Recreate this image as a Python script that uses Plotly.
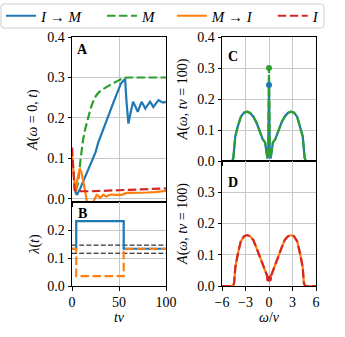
import plotly.graph_objects as go

# colours (matplotlib tab10)
blue, green, orange, red = '#1f77b4', '#2ca02c', '#ff7f0e', '#d62728'

# ---- panel A : A(w=0, t) ----
t_IM = [3, 5, 8, 12, 16, 20, 25, 28, 32, 36, 40, 44, 48, 52, 55, 56.5, 58, 60, 62.5, 65, 67.5, 70, 72, 74, 76, 78, 80.5, 83, 85, 86.5, 89, 92, 95, 97, 100]
A_IM = [0.022, 0.01, 0.022, 0.045, 0.068, 0.088, 0.115, 0.14, 0.163, 0.19, 0.213, 0.238, 0.262, 0.285, 0.293, 0.296, 0.24, 0.186, 0.215, 0.24, 0.228, 0.215, 0.228, 0.24, 0.232, 0.223, 0.232, 0.24, 0.233, 0.227, 0.235, 0.244, 0.24, 0.238, 0.24]

t_M = [4, 6.4, 9, 11.7, 14, 17, 20, 24, 28, 32, 36, 40, 44, 48, 52, 55, 60, 70, 80, 90, 100]
A_M = [0.02, 0.039, 0.095, 0.145, 0.172, 0.2, 0.225, 0.25, 0.262, 0.27, 0.276, 0.281, 0.286, 0.291, 0.296, 0.299, 0.3, 0.3, 0.3, 0.3, 0.3]

t_MI = [0, 1.5, 3.5, 5.5, 8, 10, 12, 14, 15.6, 17.5, 20, 22.7, 24.5, 26.2, 28, 29.8, 31.5, 33, 35, 36.5, 39, 41.8, 45, 48.9, 52, 55, 57.8, 62, 68, 73.8, 80, 88, 94, 98.6, 100]
A_MI = [0.108, 0.07, 0.018, 0.045, 0.075, 0.066, 0.045, 0.02, -0.003, -0.02, -0.02, -0.005, 0.004, 0.01, 0.008, 0.002, 0.006, 0.01, 0.008, 0.006, 0.009, 0.011, 0.01, 0.01, 0.01, 0.012, 0.015, 0.015, 0.015, 0.015, 0.016, 0.017, 0.018, 0.02, 0.02]

t_I = [0, 1, 2, 2.8, 5, 10, 20, 30, 40, 50, 60, 70, 80, 90, 100]
A_I = [0.127, 0.09, 0.04, 0.022, 0.02, 0.019, 0.019, 0.02, 0.021, 0.022, 0.023, 0.024, 0.025, 0.026, 0.026]

# ---- panel B : lambda(t) ----
t_lam = [0, 4.5, 4.5, 55, 55, 100]
lam_IM = [0.133, 0.133, 0.232, 0.232, 0.133, 0.133]
lam_MI = [0.133, 0.133, 0.035, 0.035, 0.133, 0.133]
lam_ref = [0.146, 0.117]

# ---- panels C, D : A(w, tv=100) ----
w = [-6, -4.7, -4.55, -4.3, -4.0, -3.6, -3.2, -2.8, -2.4, -2.0, -1.6, -1.2, -0.8, -0.5, -0.3, -0.2, -0.1, 0,
     0.1, 0.2, 0.3, 0.5, 0.8, 1.2, 1.6, 2.0, 2.4, 2.8, 3.2, 3.6, 4.0, 4.3, 4.55, 4.7, 6]
C_IM = [0, 0, 0.01, 0.08, 0.11, 0.142, 0.156, 0.159, 0.155, 0.143, 0.124, 0.1, 0.07, 0.06, 0.025, 0.008, 0.02, 0.245,
        0.02, 0.008, 0.025, 0.06, 0.07, 0.1, 0.124, 0.143, 0.155, 0.159, 0.156, 0.142, 0.11, 0.08, 0.01, 0, 0]
C_M = [0, 0, 0.01, 0.08, 0.11, 0.142, 0.156, 0.159, 0.155, 0.143, 0.124, 0.1, 0.07, 0.06, 0.025, 0.008, 0.02, 0.30,
       0.02, 0.008, 0.025, 0.06, 0.07, 0.1, 0.124, 0.143, 0.155, 0.159, 0.156, 0.142, 0.11, 0.08, 0.01, 0, 0]

w_D = [-6, -4.6, -4.45, -4.3, -4.0, -3.6, -3.2, -2.8, -2.4, -2.0, -1.6, -1.2, -0.8, -0.5, -0.3, -0.15, 0,
       0.15, 0.3, 0.5, 0.8, 1.2, 1.6, 2.0, 2.4, 2.8, 3.2, 3.6, 4.0, 4.3, 4.45, 4.6, 6]
D_MI = [0, 0, 0.01, 0.06, 0.1, 0.143, 0.159, 0.163, 0.159, 0.147, 0.122, 0.095, 0.07, 0.05, 0.035, 0.027, 0.023,
        0.027, 0.035, 0.05, 0.07, 0.095, 0.122, 0.147, 0.159, 0.163, 0.159, 0.143, 0.1, 0.06, 0.01, 0, 0]
D_I = D_MI

font_family = 'Liberation Serif'
lw = 2.2
dash = '8.5px,3.5px'
pad = '\u00a0'

fig = go.Figure()

# panel A
fig.add_trace(go.Scatter(x=t_IM, y=A_IM, mode='lines', line=dict(color=blue, width=lw),
                         name='<i>I</i> → <i>M</i>' + pad * 4, xaxis='x', yaxis='y'))
fig.add_trace(go.Scatter(x=t_M, y=A_M, mode='lines', line=dict(color=green, width=lw, dash=dash),
                         name='<i>M</i>' + pad * 3, xaxis='x', yaxis='y'))
fig.add_trace(go.Scatter(x=t_MI, y=A_MI, mode='lines', line=dict(color=orange, width=lw),
                         name='<i>M</i> → <i>I</i>' + pad * 4, xaxis='x', yaxis='y'))
fig.add_trace(go.Scatter(x=t_I, y=A_I, mode='lines', line=dict(color=red, width=lw, dash=dash),
                         name='<i>I</i>', xaxis='x', yaxis='y'))

# panel B
for yv in lam_ref:
    fig.add_trace(go.Scatter(x=[0, 100], y=[yv, yv], mode='lines', showlegend=False,
                             line=dict(color='black', width=1, dash='5px,2.2px'), xaxis='x2', yaxis='y2'))
fig.add_trace(go.Scatter(x=t_lam, y=lam_IM, mode='lines', showlegend=False,
                         line=dict(color=blue, width=lw), xaxis='x2', yaxis='y2'))
fig.add_trace(go.Scatter(x=t_lam, y=lam_MI, mode='lines', showlegend=False,
                         line=dict(color=orange, width=lw, dash=dash), xaxis='x2', yaxis='y2'))

# panel C
fig.add_trace(go.Scatter(x=w, y=C_IM, mode='lines', showlegend=False,
                         line=dict(color=blue, width=lw), xaxis='x3', yaxis='y3'))
fig.add_trace(go.Scatter(x=w, y=C_M, mode='lines', showlegend=False,
                         line=dict(color=green, width=lw, dash=dash), xaxis='x3', yaxis='y3'))
fig.add_trace(go.Scatter(x=[0], y=[C_IM[w.index(0)]], mode='markers', showlegend=False,
                         marker=dict(color=blue, size=6), xaxis='x3', yaxis='y3'))
fig.add_trace(go.Scatter(x=[0], y=[C_M[w.index(0)]], mode='markers', showlegend=False,
                         marker=dict(color=green, size=6), xaxis='x3', yaxis='y3'))

# panel D
fig.add_trace(go.Scatter(x=w_D, y=D_MI, mode='lines', showlegend=False,
                         line=dict(color=orange, width=lw), xaxis='x4', yaxis='y4'))
fig.add_trace(go.Scatter(x=w_D, y=D_I, mode='lines', showlegend=False,
                         line=dict(color=red, width=lw, dash=dash), xaxis='x4', yaxis='y4'))
fig.add_trace(go.Scatter(x=[0], y=[D_I[w_D.index(0)]], mode='markers', showlegend=False,
                         marker=dict(color=red, size=6), xaxis='x4', yaxis='y4'))

W, H = 345, 337
def fx(px): return px / W
def fy(py): return (H - py) / H

axis_style = dict(showline=True, mirror=True, linecolor='black', linewidth=1,
                  ticks='outside', ticklen=3.5, tickcolor='black', tickwidth=1,
                  showgrid=True, gridcolor='#c8c8c8', gridwidth=0.8, zeroline=False,
                  tickfont=dict(size=14, color='black'), title_font=dict(size=14, color='black'))

left_dom = [fx(72), fx(166)]
right_dom = [fx(222), fx(316)]

fig.update_layout(
    width=W, height=H, margin=dict(l=0, r=0, t=0, b=0, autoexpand=False),
    paper_bgcolor='white', plot_bgcolor='white',
    font=dict(family=font_family, size=14, color='black'),
    xaxis=dict(axis_style, domain=left_dom, anchor='y', range=[0, 100], tickvals=[0, 50, 100], showticklabels=False),
    yaxis=dict(axis_style, domain=[fy(202), fy(37)], anchor='x', range=[-0.0075, 0.4],
               tickvals=[0, 0.1, 0.2, 0.3, 0.4], tickformat='.1f',
               title=dict(text='<i>A</i>(<i>ω</i> = 0, <i>t</i>)', standoff=6)),
    xaxis2=dict(axis_style, domain=left_dom, anchor='y2', range=[0, 100], tickvals=[0, 50, 100],
                title=dict(text='<i>tv</i>', standoff=0)),
    yaxis2=dict(axis_style, domain=[fy(286), fy(202)], anchor='x2', range=[0, 0.3],
                tickvals=[0, 0.1, 0.2], tickformat='.1f',
                title=dict(text='<i>λ</i>(<i>t</i>)', standoff=4)),
    xaxis3=dict(axis_style, domain=right_dom, anchor='y3', range=[-6, 6], tickvals=[-6, -3, 0, 3, 6], showticklabels=False),
    yaxis3=dict(axis_style, domain=[fy(161), fy(37)], anchor='x3', range=[0, 0.4],
                tickvals=[0, 0.1, 0.2, 0.3, 0.4], tickformat='.1f',
                title=dict(text='<i>A</i>(<i>ω</i>, <i>tv</i> = 100)', standoff=6)),
    xaxis4=dict(axis_style, domain=right_dom, anchor='y4', range=[-6, 6], tickvals=[-6, -3, 0, 3, 6],
                ticktext=['−6', '−3', '0', '3', '6'],
                title=dict(text='<i>ω</i>/<i>v</i>', standoff=0)),
    yaxis4=dict(axis_style, domain=[fy(286), fy(161)], anchor='x4', range=[0, 0.4],
                tickvals=[0, 0.1, 0.2, 0.3], tickformat='.1f',
                title=dict(text='<i>A</i>(<i>ω</i>, <i>tv</i> = 100)', standoff=6)),
    legend=dict(orientation='h', x=fx(1), y=fy(16), xanchor='left', yanchor='middle',
                borderwidth=0, font=dict(size=15), itemwidth=30,
                bgcolor='rgba(0,0,0,0)'),
)

# legend frame with rounded corners (matplotlib style)
x0, x1, y0, y1, r = 1, 324, 4, 28, 3
frame = (f'M {fx(x0 + r)},{fy(y0)} L {fx(x1 - r)},{fy(y0)} Q {fx(x1)},{fy(y0)} {fx(x1)},{fy(y0 + r)} '
         f'L {fx(x1)},{fy(y1 - r)} Q {fx(x1)},{fy(y1)} {fx(x1 - r)},{fy(y1)} '
         f'L {fx(x0 + r)},{fy(y1)} Q {fx(x0)},{fy(y1)} {fx(x0)},{fy(y1 - r)} '
         f'L {fx(x0)},{fy(y0 + r)} Q {fx(x0)},{fy(y0)} {fx(x0 + r)},{fy(y0)} Z')
fig.add_shape(type='path', path=frame, xref='paper', yref='paper',
              line=dict(color='#cccccc', width=1), fillcolor='white', layer='below')

# panel letters
for label, px, py in [('A', 82, 49), ('B', 82, 214), ('C', 233, 57), ('D', 233, 182)]:
    fig.add_annotation(text='<b>' + label + '</b>', x=fx(px), y=fy(py), xref='paper', yref='paper',
                       xanchor='center', yanchor='middle',
                       showarrow=False, font=dict(size=14, color='black'))

# page body has an 8px default margin; remove it so the figure sits at the window origin
fig.write_html('out.html', config={'displayModeBar': False},
               post_script="document.body.style.margin='0';")
